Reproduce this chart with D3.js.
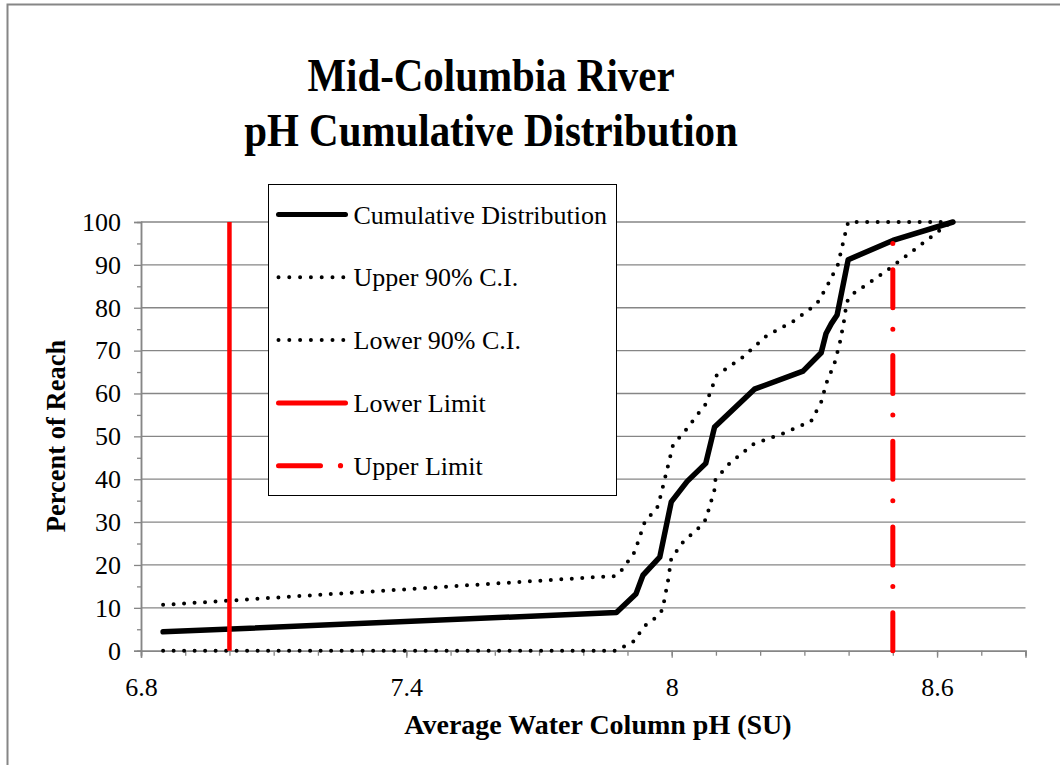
<!DOCTYPE html>
<head>
<meta charset="UTF-8">
<script src="https://d3js.org/d3.v7.min.js"></script>
<style>
  body { margin: 0; background: #fff; }
  svg text { font-family: "Liberation Serif", "Times New Roman", serif; fill: #000; }
</style>
</head>
<body>
<svg></svg>
<script>

var width = 1060, height = 765;

// ---- data
var cumPH  = [6.85, 7.875, 7.919, 7.935, 7.973, 7.999, 8.035, 8.077, 8.097, 8.187, 8.297, 8.338, 8.349, 8.361, 8.374, 8.399, 8.50, 8.636];
var cumPct = [4.4, 8.9, 13.2, 17.6, 21.8, 34.7, 39.5, 43.7, 52.2, 61.0, 65.2, 69.5, 74.0, 76.3, 78.3, 91.2, 95.7, 100];

var upperPH  = [6.85, 7.849, 7.873, 7.889, 7.916, 7.939, 7.954, 7.969, 7.980, 7.992, 8.003, 8.033, 8.063, 8.077, 8.102, 8.161, 8.214, 8.276, 8.314, 8.332, 8.354, 8.376, 8.392, 8.399, 8.636];
var upperPct = [10.7, 17.3, 17.4, 19.0, 23.0, 30.0, 31.8, 33.7, 38.2, 43.3, 48.0, 51.6, 55.7, 57.5, 64.3, 68.5, 73.4, 76.9, 79.8, 81.5, 85.6, 90.1, 97.1, 100, 100];

var lowerPH  = [6.85, 7.875, 7.896, 7.916, 7.929, 7.943, 7.964, 7.979, 7.992, 7.999, 8.026, 8.063, 8.077, 8.097, 8.099, 8.131, 8.185, 8.252, 8.315, 8.338, 8.350, 8.368, 8.380, 8.389, 8.396, 8.408, 8.487, 8.562, 8.621, 8.636];
var lowerPct = [0, 0, 1.2, 2.3, 4.4, 6.2, 7.7, 9.5, 16.5, 21.5, 25.4, 28.8, 30.6, 37.6, 40.0, 43.7, 48.2, 50.7, 53.5, 58.0, 62.5, 67.0, 71.7, 76.5, 81.4, 83.1, 88.7, 94.6, 99.2, 100];

var lowerLimit = 7.0;
var upperLimit = 8.5;

var xTicks = [6.8, 7.4, 8, 8.6];
var xTickLabels = ["6.8", "7.4", "8", "8.6"];
var yTicks = d3.range(0, 101, 10);

var titleLines = ["Mid-Columbia River", "pH Cumulative Distribution"];
var legendNames = ["Cumulative Distribution", "Upper 90% C.I.", "Lower 90% C.I.", "Lower Limit", "Upper Limit"];

// ---- scales
var x = d3.scaleLinear().domain([6.8, 8.8]).range([141, 1025.5]);
var y = d3.scaleLinear().domain([0, 100]).range([650.7, 222]);

var gray = "#868686";

var svg = d3.select("svg").attr("width", width).attr("height", height);

// outer chart border (only left and top show)
svg.append("path")
  .attr("d", "M7.5," + height + "V4.5H" + width)
  .attr("fill", "none").attr("stroke", gray).attr("stroke-width", 2);

// title (the original font is a bit narrower than Times, so squeeze it)
svg.append("g").selectAll("text")
  .data(titleLines)
  .enter().append("text")
  .attr("transform", function (d, i) { return "translate(491," + (91 + i * 55) + ") scale(0.89,1)"; })
  .attr("text-anchor", "middle")
  .style("font-size", "46px").style("font-weight", "bold")
  .text(function (d) { return d; });

// gridlines
svg.append("g").selectAll("line")
  .data(yTicks.slice(1))
  .enter().append("line")
  .attr("x1", x.range()[0]).attr("x2", x.range()[1])
  .attr("y1", function (d) { return y(d); })
  .attr("y2", function (d) { return y(d); })
  .attr("stroke", gray).attr("stroke-width", 1.3);

// axes: minor ticks first, then labelled major ticks
var yMinor = svg.append("g").attr("transform", "translate(" + x.range()[0] + ",0)")
  .call(d3.axisLeft(y).tickValues(d3.range(5, 100, 10)).tickSize(4).tickFormat(""));
var yMajor = svg.append("g").attr("transform", "translate(" + x.range()[0] + ",0)")
  .call(d3.axisLeft(y).tickValues(yTicks).tickSize(7).tickPadding(13));

var xMinor = svg.append("g").attr("transform", "translate(0," + y(0) + ")")
  .call(d3.axisBottom(x).tickValues(d3.range(0, 21).map(function (i) { return 6.8 + i * 0.1; })).tickSize(5).tickFormat(""));
var xMajor = svg.append("g").attr("transform", "translate(0," + y(0) + ")")
  .call(d3.axisBottom(x).tickValues(xTicks).tickSize(7).tickPadding(20)
    .tickFormat(function (d, i) { return xTickLabels[i]; }));

[yMinor, yMajor, xMinor, xMajor].forEach(function (g) {
  g.select(".domain").attr("stroke", gray).attr("stroke-width", 1.5);
  g.selectAll(".tick line").attr("stroke", gray).attr("stroke-width", 1.3);
  g.selectAll("text").style("font-size", "26px").attr("fill", "#000")
    .style("font-family", "'Liberation Serif', 'Times New Roman', serif");
});

// axis titles
svg.append("text")
  .attr("x", 598).attr("y", 734)
  .attr("text-anchor", "middle")
  .style("font-size", "28px").style("font-weight", "bold")
  .text("Average Water Column pH (SU)");

svg.append("text")
  .attr("transform", "translate(65,436) rotate(-90)")
  .attr("text-anchor", "middle")
  .style("font-size", "26.5px").style("font-weight", "bold")
  .text("Percent of Reach");

// ---- series
var line = d3.line().x(function (d) { return x(d[0]); }).y(function (d) { return y(d[1]); });

var cum = d3.zip(cumPH, cumPct);
var upper = d3.zip(upperPH, upperPct);
var lower = d3.zip(lowerPH, lowerPct);

var dotted = "0 10.5";

svg.append("path").datum(upper)
  .attr("d", line).attr("fill", "none")
  .attr("stroke", "#000").attr("stroke-width", 4)
  .attr("stroke-linecap", "round").attr("stroke-dasharray", dotted);

svg.append("path").datum(lower)
  .attr("d", line).attr("fill", "none")
  .attr("stroke", "#000").attr("stroke-width", 4)
  .attr("stroke-linecap", "round").attr("stroke-dasharray", dotted);

svg.append("path").datum(cum)
  .attr("d", line).attr("fill", "none")
  .attr("stroke", "#000").attr("stroke-width", 5.5)
  .attr("stroke-linejoin", "round").attr("stroke-linecap", "round");

// limits
svg.append("line")
  .attr("x1", x(lowerLimit)).attr("x2", x(lowerLimit))
  .attr("y1", y(0)).attr("y2", y(100))
  .attr("stroke", "#ff0000").attr("stroke-width", 4.5);

// dash-dot: dash over each 10 units, dot in the middle of each gap
var unit = y(0) - y(10), lw = 5;
var dashDot = [unit - lw, 1.5 * unit - (unit - lw), 0, 0.5 * unit].join(" ");

// stop just short of 100 so no extra cap shows at the top
svg.append("line")
  .attr("x1", x(upperLimit)).attr("x2", x(upperLimit))
  .attr("y1", y(0)).attr("y2", y(99))
  .attr("stroke", "#ff0000").attr("stroke-width", lw)
  .attr("stroke-linecap", "round")
  .attr("stroke-dasharray", dashDot);

// ---- legend
var legend = svg.append("g").attr("transform", "translate(268.5,184.5)");

legend.append("rect")
  .attr("width", 348).attr("height", 311)
  .attr("fill", "#fff").attr("stroke", "#000").attr("stroke-width", 1);

var rows = legend.selectAll(".row")
  .data(legendNames)
  .enter().append("g")
  .attr("class", "row")
  .attr("transform", function (d, i) { return "translate(0," + (30 + i * 62.8) + ")"; });

rows.append("text")
  .attr("x", 85).attr("y", 9)
  .style("font-size", "26px")
  .text(function (d) { return d; });

rows.each(function (d, i) {
  var g = d3.select(this);
  if (i === 0 || i === 3) {
    g.append("line").attr("x1", 10).attr("x2", 77).attr("y1", 0).attr("y2", 0)
      .attr("stroke", i === 0 ? "#000" : "#ff0000").attr("stroke-width", 5)
      .attr("stroke-linecap", "round");
  } else if (i === 1 || i === 2) {
    g.append("line").attr("x1", 10).attr("x2", 76).attr("y1", 0).attr("y2", 0)
      .attr("stroke", "#000").attr("stroke-width", 4)
      .attr("stroke-linecap", "round").attr("stroke-dasharray", "0 10.8");
  } else {
    g.append("line").attr("x1", 10).attr("x2", 52).attr("y1", 0).attr("y2", 0)
      .attr("stroke", "#ff0000").attr("stroke-width", 5)
      .attr("stroke-linecap", "round");
    g.append("circle").attr("cx", 72).attr("cy", 0).attr("r", 2.6).attr("fill", "#ff0000");
  }
});

</script>
</body>
